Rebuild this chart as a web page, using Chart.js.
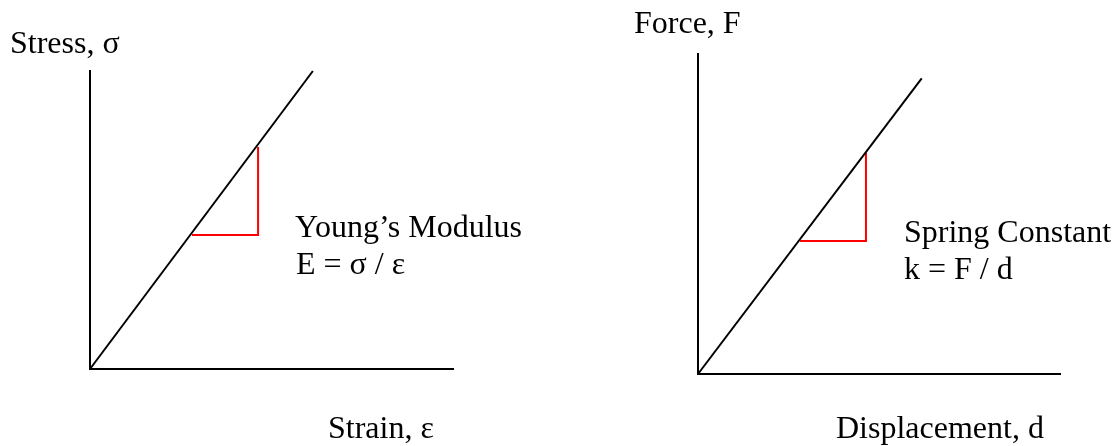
<!DOCTYPE html>
<html>
<head>
<meta charset="utf-8">
<script src="https://cdn.jsdelivr.net/npm/chart.js@4/dist/chart.umd.min.js"></script>
<style>
  html, body { margin: 0; padding: 0; background: #fff; width: 1117px; height: 446px; overflow: hidden; }
  canvas { position: absolute; top: 0; }
  .lbl { position: absolute; font-family: "Liberation Serif", "Times New Roman", serif; font-size: 32px; line-height: 32px; color: #000; white-space: nowrap; }
</style>
</head>
<body>
<canvas id="left" width="558" height="446" style="left:0px"></canvas>
<canvas id="right" width="559" height="446" style="left:558px"></canvas>

<div class="lbl" style="left:10px; top:26px;">Stress, σ</div>
<div class="lbl" style="left:295px; top:210px;">Young’s Modulus</div>
<div class="lbl" style="left:296px; top:247px;">E = σ / ε</div>
<div class="lbl" style="left:328px; top:411px;">Strain, ε</div>

<div class="lbl" style="left:634px; top:6px;">Force, F</div>
<div class="lbl" style="left:904px; top:215px;">Spring Constant</div>
<div class="lbl" style="left:904px; top:252px;">k = F / d</div>
<div class="lbl" style="left:836px; top:411px;">Displacement, d</div>

<script>
// ---- data (arbitrary units, axes span 0..10) ----
const axisMin = 0;
const axisMax = 10;

// Stress–strain line and slope triangle
const strainLineX = [0, 6.14];
const stressLineY = [0, 10];
const youngTriX = [2.81, 4.63, 4.63];
const youngTriY = [4.50, 4.50, 7.45];

// Force–displacement line and slope triangle
const dispLineX = [0, 6.18];
const forceLineY = [0, 9.24];
const springTriX = [2.82, 4.64, 4.64];
const springTriY = [4.16, 4.16, 6.92];

function pts(xs, ys) { return xs.map((x, i) => ({ x: x, y: ys[i] })); }

function axis(isX) {
  return {
    type: 'linear', min: axisMin, max: axisMax,
    grid: { display: false },
    ticks: { display: false },
    border: { display: true, color: '#000', width: 2 },
    afterFit: s => { if (isX) s.height = 0; else s.width = 0; }
  };
}

function makeChart(id, lineX, lineY, triX, triY, pad) {
  return new Chart(document.getElementById(id), {
    type: 'scatter',
    data: {
      datasets: [
        { data: pts(lineX, lineY), showLine: true, borderColor: '#000', borderWidth: 2, pointRadius: 0, clip: false, tension: 0 },
        { data: pts(triX, triY), showLine: true, borderColor: '#ff0000', borderWidth: 2, pointRadius: 0, clip: false, tension: 0 }
      ]
    },
    options: {
      responsive: false, animation: false, devicePixelRatio: 1,
      layout: { padding: pad },
      plugins: { legend: { display: false }, tooltip: { enabled: false }, title: { display: false } },
      scales: { x: axis(true), y: axis(false) }
    }
  });
}

makeChart('left', strainLineX, stressLineY, youngTriX, youngTriY, { left: 90, right: 105, top: 71, bottom: 77 });
makeChart('right', dispLineX, forceLineY, springTriX, springTriY, { left: 140, right: 57, top: 54, bottom: 72 });
</script>
</body>
</html>
